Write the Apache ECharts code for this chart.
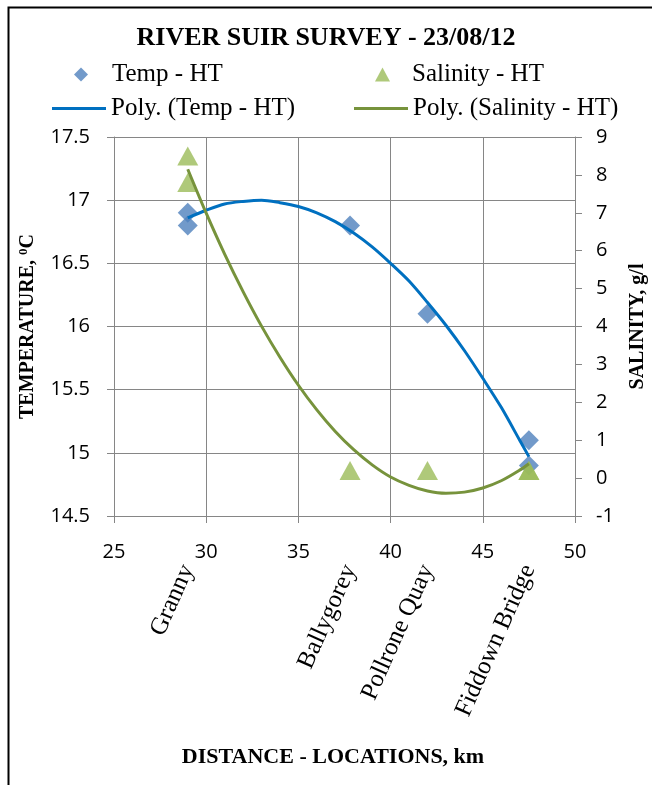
<!DOCTYPE html>
<html><head><meta charset="utf-8">
<script src="https://cdn.jsdelivr.net/npm/echarts@6/dist/echarts.min.js"></script>
<style>html,body{margin:0;padding:0;background:#fff}#c{width:652px;height:785px}</style>
</head><body><div id="c"></div>
<script>
// ---- data ----
const locationNames = ['Granny', 'Ballygorey', 'Pollrone Quay', 'Fiddown Bridge'];
const locationKm = [29, 37.8, 42, 47.5];

const tempX = [29, 29, 37.8, 42, 47.5, 47.5];
const tempValues = [16.9, 16.8, 16.8, 16.1, 15.1, 14.9];
const salinityX = [29, 29, 37.8, 42, 47.5, 47.5];
const salinityValues = [8.5, 7.8, 0.2, 0.2, 0.2, 0.2];

// polynomial trendlines
const trendX = [29, 30, 31, 32, 33, 34, 35, 36, 37, 38, 39, 40, 41, 42, 43, 44, 45, 46, 47, 47.5];
const tempTrend = [16.86, 16.92, 16.97, 16.99, 17.00, 16.98, 16.95, 16.90, 16.83, 16.74, 16.63, 16.50, 16.36, 16.19, 16.01, 15.81, 15.59, 15.36, 15.10, 14.97];
const salinityTrend = [8.15, 6.99, 5.91, 4.92, 4.01, 3.19, 2.45, 1.80, 1.23, 0.75, 0.35, 0.03, -0.19, -0.34, -0.40, -0.37, -0.26, -0.07, 0.21, 0.38];

const xTicks = [25, 30, 35, 40, 45, 50];
const tempTicks = [14.5, 15, 15.5, 16, 16.5, 17, 17.5];
const salinityTicks = [-1, 0, 1, 2, 3, 4, 5, 6, 7, 8, 9];

const seriesNames = ['Temp - HT', 'Salinity - HT', 'Poly. (Temp - HT)', 'Poly. (Salinity - HT)'];
const titleText = 'RIVER SUIR SURVEY - 23/08/12';

// ---- chart ----
const zip = (xs, ys) => xs.map((x, i) => [x, ys[i]]);
const gray = '#868686';
const serif = 'Liberation Serif';
const tickFont = { fontFamily: 'Open Sans', fontSize: 20, color: '#000' };

const chart = echarts.init(document.getElementById('c'), null, { renderer: 'canvas' });
function legendOf(name, left, top, w, h, icon, padLeft) {
  return {
    data: [icon ? { name: name, icon: icon } : name],
    left: left, top: top, itemWidth: w, itemHeight: h, itemGap: 0, padding: 0,
    selectedMode: false,
    textStyle: { fontFamily: serif, fontSize: 25, color: '#000', padding: [0, 0, 0, padLeft] }
  };
}
chart.setOption({
  animation: false,
  backgroundColor: '#fff',
  title: {
    text: titleText, left: 'center', top: 20,
    textStyle: { fontFamily: serif, fontWeight: 'bold', fontSize: 26, color: '#000' }
  },
  graphic: [{
    type: 'rect', left: 6, top: 5, z: -10, silent: true,
    shape: { width: 700, height: 820 },
    style: { fill: 'none', stroke: '#000', lineWidth: 2 }
  }],
  legend: [
    legendOf(seriesNames[0], 74, 62, 14, 14, null, 19),
    legendOf(seriesNames[1], 375, 62, 15, 14, null, 17),
    legendOf(seriesNames[2], 52, 96, 54, 3, 'rect', 0),
    legendOf(seriesNames[3], 354, 96, 54, 3, 'rect', 0)
  ],
  grid: { left: 114, right: 77, top: 137, bottom: 269, containLabel: false, outerBoundsMode: 'none' },
  xAxis: [{
    type: 'value', position: 'bottom',
    min: xTicks[0], max: xTicks[xTicks.length - 1], interval: xTicks[1] - xTicks[0],
    axisLine: { show: true, onZero: false, lineStyle: { color: gray, width: 1 } },
    axisTick: { show: true, length: 7, lineStyle: { color: gray } },
    splitLine: { show: true, lineStyle: { color: gray, width: 1 } },
    axisLabel: Object.assign({ margin: 26 }, tickFont),
    name: 'DISTANCE - LOCATIONS, km', nameLocation: 'middle', nameGap: 230,
    nameTextStyle: { fontFamily: serif, fontWeight: 'bold', fontSize: 22, color: '#000', padding: [0, 23, 0, 0] }
  }, {
    type: 'value', position: 'bottom',
    min: xTicks[0], max: xTicks[xTicks.length - 1],
    axisLine: { show: false, onZero: false }, axisTick: { show: false }, splitLine: { show: false },
    axisLabel: {
      customValues: locationKm,
      formatter: v => { const i = locationKm.indexOf(v); return i >= 0 ? locationNames[i] : ''; },
      rotate: 66, margin: 50,
      fontFamily: serif, fontSize: 25, color: '#000'
    }
  }],
  yAxis: [{
    type: 'value', position: 'left',
    min: tempTicks[0], max: tempTicks[tempTicks.length - 1], interval: tempTicks[1] - tempTicks[0],
    axisLine: { show: true, onZero: false, lineStyle: { color: gray, width: 1 } },
    axisTick: { show: true, length: 7, lineStyle: { color: gray } },
    splitLine: { show: true, lineStyle: { color: gray, width: 1 } },
    axisLabel: Object.assign({ margin: 24 }, tickFont),
    name: 'TEMPERATURE, {sup|0}C', nameLocation: 'middle', nameRotate: 90, nameGap: 76,
    nameTextStyle: {
      fontFamily: serif, fontWeight: 'bold', fontSize: 20, color: '#000',
      rich: { sup: { fontFamily: serif, fontWeight: 'bold', fontSize: 13, color: '#000', verticalAlign: 'top', padding: [0, 0, 8, 0] } }
    }
  }, {
    type: 'value', position: 'right',
    min: salinityTicks[0], max: salinityTicks[salinityTicks.length - 1], interval: salinityTicks[1] - salinityTicks[0],
    axisLine: { show: true, onZero: false, lineStyle: { color: gray, width: 1 } },
    axisTick: { show: true, length: 7, lineStyle: { color: gray } },
    splitLine: { show: false },
    axisLabel: Object.assign({ margin: 21 }, tickFont),
    name: 'SALINITY, g/l', nameLocation: 'middle', nameRotate: 90, nameGap: 53,
    nameTextStyle: { fontFamily: serif, fontWeight: 'bold', fontSize: 20, color: '#000' }
  }],
  series: [{
    name: seriesNames[0], type: 'scatter', xAxisIndex: 0, yAxisIndex: 0,
    symbol: 'diamond', symbolSize: 20,
    itemStyle: { color: '#4F81BD' },
    data: zip(tempX, tempValues), z: 2
  }, {
    name: seriesNames[1], type: 'scatter', xAxisIndex: 0, yAxisIndex: 1,
    symbol: 'triangle', symbolSize: [21, 19],
    itemStyle: { color: '#9BBB59' },
    data: zip(salinityX, salinityValues), z: 2
  }, {
    name: seriesNames[2], type: 'line', xAxisIndex: 0, yAxisIndex: 0,
    symbol: 'none', showSymbol: false, smooth: 0.3,
    lineStyle: { color: '#0070C0', width: 3 }, itemStyle: { color: '#0070C0' },
    data: zip(trendX, tempTrend), z: 3
  }, {
    name: seriesNames[3], type: 'line', xAxisIndex: 0, yAxisIndex: 1,
    symbol: 'none', showSymbol: false, smooth: 0.3,
    lineStyle: { color: '#77933C', width: 3 }, itemStyle: { color: '#77933C' },
    data: zip(trendX, salinityTrend), z: 4
  }]
});
</script>
</body></html>
